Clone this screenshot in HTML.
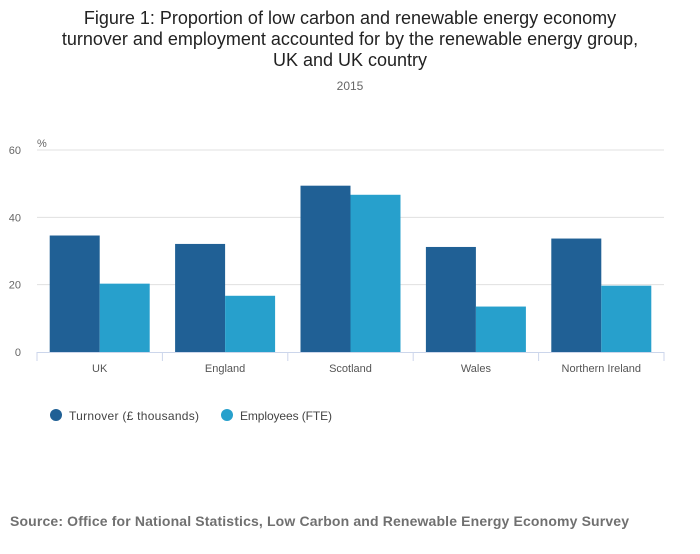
<!DOCTYPE html>
<html><head><meta charset="utf-8"><style>
body{margin:0;background:#fff;width:700px;height:549px;overflow:hidden;font-family:"Liberation Sans",sans-serif}
</style></head><body>
<svg width="700" height="549">
<text x="350" y="24" text-anchor="middle" font-size="18" fill="#222">Figure 1: Proportion of low carbon and renewable energy economy</text>
<text x="350" y="45" text-anchor="middle" font-size="18" fill="#222">turnover and employment accounted for by the renewable energy group,</text>
<text x="350" y="66" text-anchor="middle" font-size="18" fill="#222">UK and UK country</text>
<text x="350" y="90" text-anchor="middle" font-size="12" fill="#666">2015</text>
<text x="37" y="147" font-size="11" fill="#666">%</text>
<g id="grid"></g><g id="bars"></g><g id="axis"></g>
<g>
<circle cx="56" cy="415" r="6" fill="#206095"/>
<text x="69" y="420" font-size="12" fill="#444" textLength="130">Turnover (£ thousands)</text>
<circle cx="227" cy="415" r="6" fill="#27a0cc"/>
<text x="240" y="420" font-size="12" fill="#444" textLength="92">Employees (FTE)</text>
</g>
<text x="10" y="526" font-size="14" font-weight="bold" fill="#707070" textLength="619">Source: Office for National Statistics, Low Carbon and Renewable Energy Economy Survey</text>
</svg>
<script>
const categories=["UK","England","Scotland","Wales","Northern Ireland"];
const turnover=[34.6,32.1,49.4,31.2,33.7];
const employees=[20.3,16.7,46.7,13.5,19.7];
const yTicks=[0,20,40,60];
const NS="http://www.w3.org/2000/svg";
const x0=37,x1=664,yBase=352,yTop=150,yMax=60;
const y=v=>yBase-(v/yMax)*(yBase-yTop);
const bandW=(x1-x0)/categories.length;
function mk(t,a,p){const e=document.createElementNS(NS,t);for(const k in a)e.setAttribute(k,a[k]);p.appendChild(e);return e;}
const grid=document.getElementById('grid'),bars=document.getElementById('bars'),axis=document.getElementById('axis');
yTicks.forEach(v=>{
 if(v>0){const l=mk('line',{x1:x0,x2:x1,y1:y(v),y2:y(v),stroke:'#e0e0e0'},grid);
 
 }
 const t=mk('text',{x:21,y:y(v)+4,'text-anchor':'end','font-size':11,fill:'#666'},grid);t.textContent=v;
 
 
});
const bl=mk('line',{x1:x0,x2:x1,y1:yBase+0.5,y2:yBase+0.5,stroke:'#ccd6eb'},axis);


for(let i=0;i<=categories.length;i++){const xx=x0+i*bandW;
 const tk=mk('line',{x1:xx,x2:xx,y1:yBase,y2:yBase+9,stroke:'#ccd6eb'},axis);
 
 }
categories.forEach((c,i)=>{
 const cx=x0+(i+0.5)*bandW,bw=50;
 const r1=mk('rect',{x:cx-bw,y:y(turnover[i]),width:bw,height:yBase-y(turnover[i]),fill:'#206095'},bars);
 
 
 const r2=mk('rect',{x:cx,y:y(employees[i]),width:bw,height:yBase-y(employees[i]),fill:'#27a0cc'},bars);
 
 
 const t=mk('text',{x:cx,y:372,'text-anchor':'middle','font-size':11,fill:'#555'},axis);t.textContent=c;
 
 
});
</script>
</body></html>
